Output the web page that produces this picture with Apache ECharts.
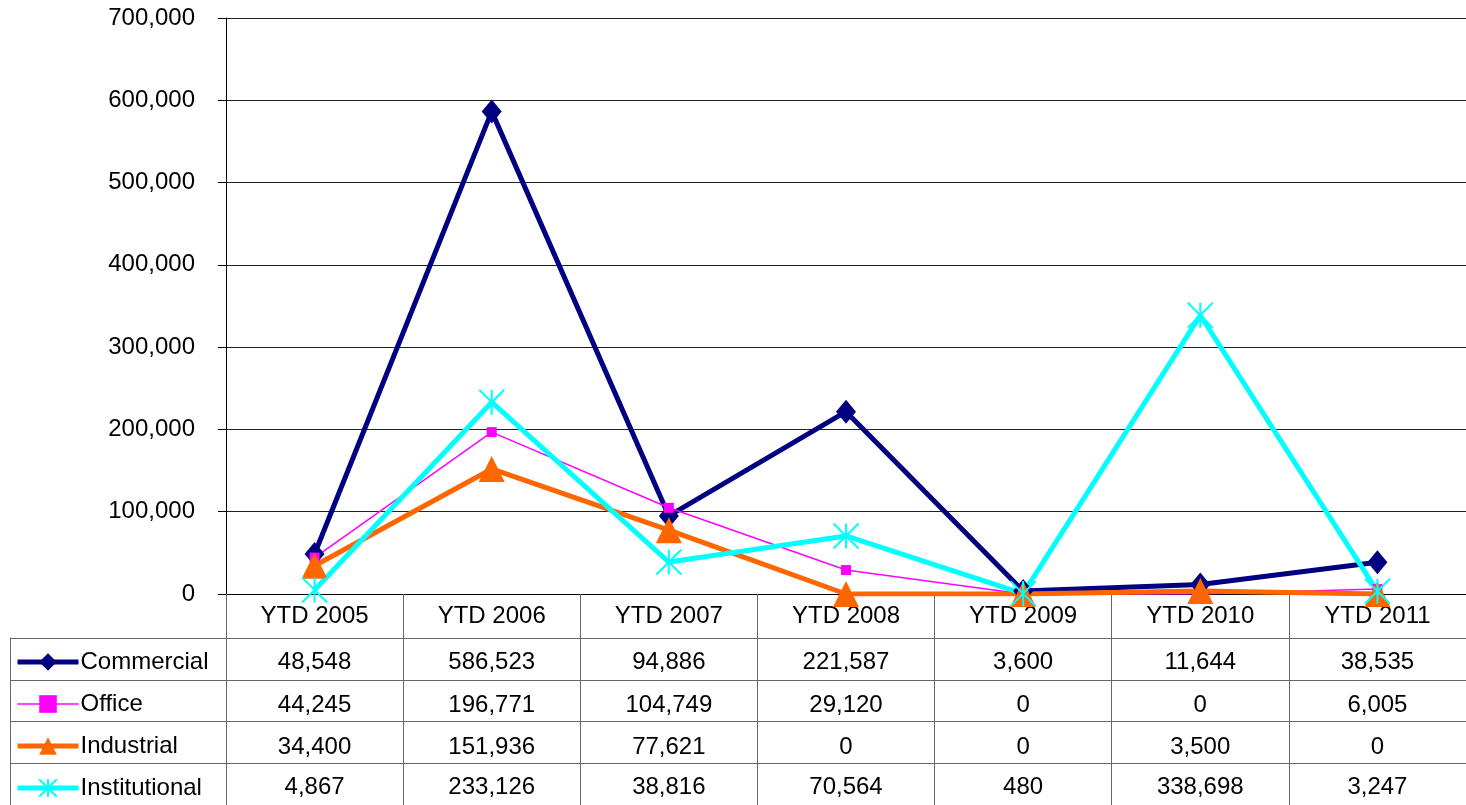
<!DOCTYPE html>
<html>
<head>
<meta charset="utf-8">
<script src="https://cdn.jsdelivr.net/npm/echarts@6/dist/echarts.min.js"></script>
<style>
  html, body { margin: 0; padding: 0; background: #fff; }
  #chart { width: 1466px; height: 805px; }
</style>
</head>
<body>
<div id="chart"></div>
<script>
const categories = ['YTD 2005', 'YTD 2006', 'YTD 2007', 'YTD 2008', 'YTD 2009', 'YTD 2010', 'YTD 2011']
const seriesNames = ['Commercial', 'Office', 'Industrial', 'Institutional']
const commercial = [48548, 586523, 94886, 221587, 3600, 11644, 38535]
const office = [44245, 196771, 104749, 29120, 0, 0, 6005]
const industrial = [34400, 151936, 77621, 0, 0, 3500, 0]
const institutional = [4867, 233126, 38816, 70564, 480, 338698, 3247]
const yMin = 0
const yMax = 700000
const yStep = 100000

const rows = [commercial, office, industrial, institutional]
const colors = ['#000080', '#ff00ff', '#ff6600', '#00ffff']
const widths = [5, 1.5, 5, 5]
const font = 'Liberation Sans, Arial, sans-serif'
const fmt = v => v.toLocaleString('en-US')
const star = 'path://M10,0L10,20M0,0L20,20M20,0L0,20'

const chart = echarts.init(document.getElementById('chart'))

// one hidden axis per table row, so each value sits under its column
const rowMargins = [68, 111, 153, 193]
const rowAxes = rows.map((row, k) => ({
  type: 'category',
  gridIndex: 0,
  position: 'bottom',
  data: categories,
  axisLine: { show: false },
  axisTick: { show: false },
  axisLabel: {
    interval: 0,
    margin: rowMargins[k],
    verticalAlign: 'middle',
    fontSize: 24,
    fontFamily: font,
    color: '#000',
    formatter: (v, i) => fmt(row[i])
  }
}))

chart.setOption({
  animation: false,
  grid: [
    { left: 226, right: 0, top: 18, bottom: 211 },
    { left: 10, right: 0, top: 638, height: 170 }
  ],
  legend: {
    orient: 'vertical',
    left: 10,
    top: 645,
    itemWidth: 61,
    itemHeight: 22,
    itemGap: 18,
    selectedMode: false,
    data: seriesNames.map((name, k) => ({ name, lineStyle: { width: widths[k] } })),
    textStyle: { fontSize: 24, fontFamily: font, color: '#000', lineHeight: 24, padding: [0, 0, 0, -3] }
  },
  xAxis: [
    {
      type: 'category',
      gridIndex: 0,
      data: categories,
      boundaryGap: true,
      axisLine: { lineStyle: { color: '#000', width: 1 } },
      axisTick: { show: true, length: 211, interval: 0, lineStyle: { color: '#666' } },
      axisLabel: {
        interval: 0,
        margin: 22,
        verticalAlign: 'middle',
        fontSize: 24,
        fontFamily: font,
        color: '#000'
      }
    },
    ...rowAxes,
    { type: 'value', gridIndex: 1, show: false }
  ],
  yAxis: [
    {
      type: 'value',
      gridIndex: 0,
      min: yMin,
      max: yMax,
      interval: yStep,
      axisLine: { show: true, lineStyle: { color: '#000' } },
      axisTick: { show: true, length: 8, lineStyle: { color: '#000' } },
      axisLabel: {
        margin: 31,
        fontSize: 24,
        fontFamily: font,
        color: '#000',
        formatter: v => fmt(v)
      },
      splitLine: { lineStyle: { color: '#222', width: 1 } }
    },
    {
      type: 'category',
      gridIndex: 1,
      inverse: true,
      data: seriesNames,
      axisLine: { show: true, lineStyle: { color: '#666' } },
      axisTick: { show: false },
      axisLabel: { show: false },
      splitLine: { show: true, interval: 0, lineStyle: { color: '#666' } }
    }
  ],
  series: [
    {
      name: 'Commercial', type: 'line', data: commercial,
      symbol: 'diamond', symbolSize: [20, 24],
      lineStyle: { width: widths[0], color: colors[0] },
      itemStyle: { color: colors[0] }
    },
    {
      name: 'Office', type: 'line', data: office,
      symbol: 'rect', symbolSize: 10,
      lineStyle: { width: widths[1], color: colors[1] },
      itemStyle: { color: colors[1] }
    },
    {
      name: 'Industrial', type: 'line', data: industrial,
      symbol: 'triangle', symbolSize: [26, 26],
      lineStyle: { width: widths[2], color: colors[2] },
      itemStyle: { color: colors[2] }
    },
    {
      name: 'Institutional', type: 'line', data: institutional,
      symbol: star, symbolSize: 25,
      lineStyle: { width: widths[3], color: colors[3] },
      itemStyle: { color: 'none', borderColor: colors[3], borderWidth: 2 }
    }
  ]
})
</script>
</body>
</html>
